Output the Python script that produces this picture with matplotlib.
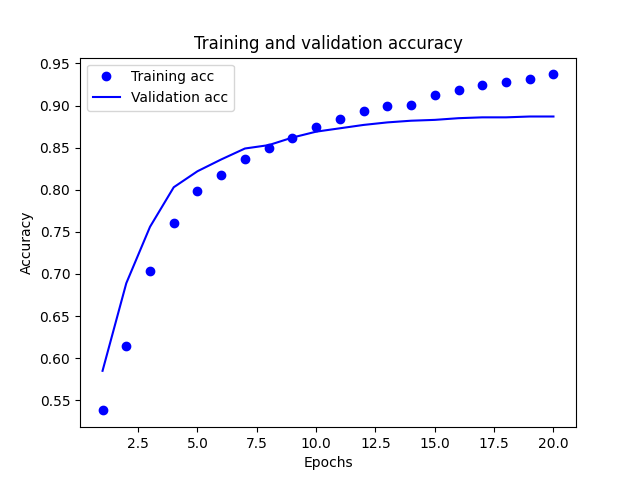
import matplotlib
matplotlib.use("Agg")
from matplotlib import pyplot as plt

epochs = list(range(1, 21))
acc = [0.538, 0.614, 0.704, 0.761, 0.798, 0.818, 0.836, 0.850, 0.861, 0.875,
       0.884, 0.893, 0.900, 0.901, 0.912, 0.919, 0.925, 0.928, 0.931, 0.937]
val_acc = [0.585, 0.689, 0.756, 0.803, 0.822, 0.836, 0.849, 0.853, 0.862, 0.869,
           0.873, 0.877, 0.880, 0.882, 0.883, 0.885, 0.886, 0.886, 0.887, 0.887]

plt.figure(figsize=(6.4, 4.8), dpi=100)
plt.plot(epochs, acc, "bo", label="Training acc")
plt.plot(epochs, val_acc, "b", label="Validation acc")
plt.title("Training and validation accuracy")
plt.xlabel("Epochs")
plt.ylabel("Accuracy")
plt.legend()
plt.savefig("out.png")
